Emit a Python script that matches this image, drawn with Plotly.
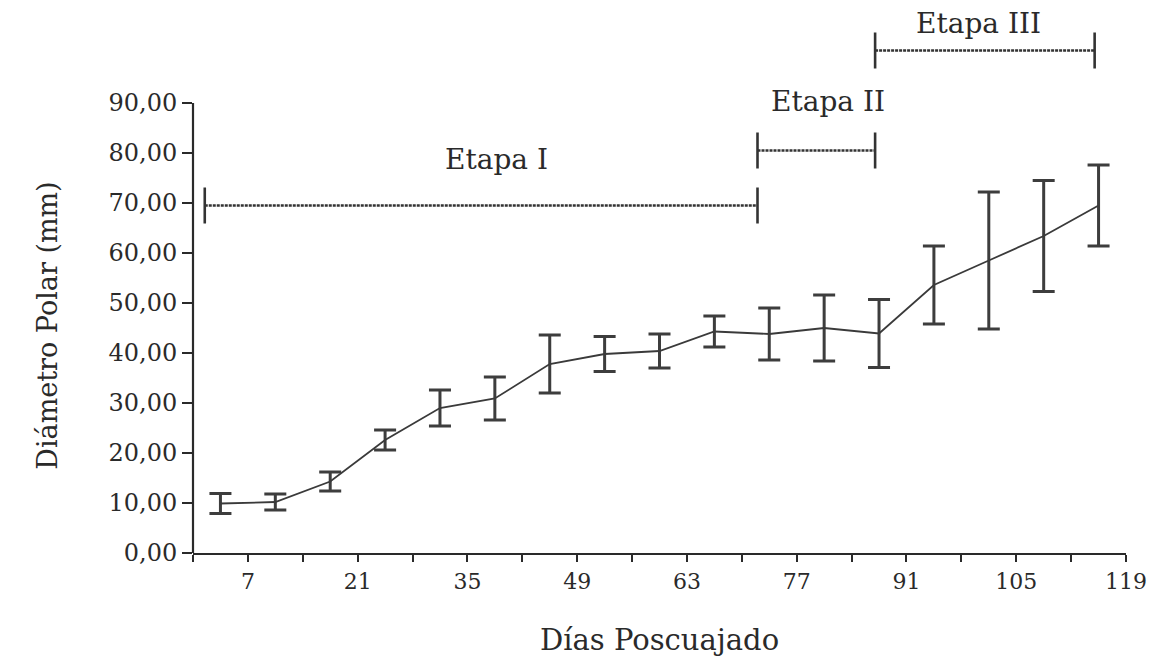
import plotly.graph_objects as go

# Data
days = [3.5, 10.5, 17.5, 24.5, 31.5, 38.5, 45.5, 52.5, 59.5, 66.5, 73.5, 80.5, 87.5, 94.5, 101.5, 108.5, 115.5]
diam_mean = [9.9, 10.2, 14.3, 22.6, 29.0, 30.9, 37.8, 39.8, 40.4, 44.3, 43.8, 45.0, 43.9, 53.6, 58.5, 63.4, 69.5]
diam_err = [2.0, 1.6, 1.9, 2.0, 3.6, 4.3, 5.8, 3.5, 3.4, 3.1, 5.2, 6.6, 6.8, 7.8, 13.7, 11.1, 8.1]

x_tick_vals = [7, 21, 35, 49, 63, 77, 91, 105, 119]
y_tick_vals = [0, 10, 20, 30, 40, 50, 60, 70, 80, 90]

stage_names = ["Etapa I", "Etapa II", "Etapa III"]
stage_start = [1.5, 72, 87]
stage_end = [72, 87, 115]
stage_level = [69.5, 80.5, 100.5]
stage_label_x = [38.7, 81.0, 100.2]
stage_label_y = [78.8, 90.3, 106.0]

FONT = "DejaVu Serif"
INK = "#2a2a2a"
Y_MAX = 106

fig = go.Figure()
fig.add_trace(go.Scatter(
    x=days, y=diam_mean, mode="lines",
    line=dict(color="#3a3a3a", width=1.8),
    error_y=dict(type="data", array=diam_err, visible=True,
                 color="#3d3d3d", thickness=3, width=11),
    showlegend=False, hoverinfo="x+y",
))

shapes = []
# y axis line only up to 90
shapes.append(dict(type="line", xref="paper", yref="y", x0=0, x1=0, y0=0, y1=90,
                   line=dict(color=INK, width=2.2)))
for s, e, lv in zip(stage_start, stage_end, stage_level):
    shapes.append(dict(type="line", xref="x", yref="y", x0=s, x1=e, y0=lv, y1=lv,
                       line=dict(color="#333333", width=2.6, dash="3px,1px")))
    for xc in (s, e):
        shapes.append(dict(type="line", xref="x", yref="y", x0=xc, x1=xc,
                           y0=lv - 3.6, y1=lv + 3.6,
                           line=dict(color="#333333", width=2.6)))

annotations = []
for name, lx, ly in zip(stage_names, stage_label_x, stage_label_y):
    # paper-referenced y so labels above the axis range are still shown
    annotations.append(dict(x=lx, y=ly / Y_MAX, xref="x", yref="paper", text=name,
                            showarrow=False, yanchor="middle",
                            font=dict(family=FONT, size=28, color=INK)))
annotations.append(dict(x=-0.175, y=45.5, xref="paper", yref="y", text="Diámetro Polar (mm)",
                        textangle=-90, showarrow=False,
                        font=dict(family=FONT, size=27, color=INK)))
annotations.append(dict(x=0.5, y=-0.164, xref="paper", yref="paper", text="Días Poscuajado",
                        showarrow=False, yanchor="middle",
                        font=dict(family=FONT, size=29, color=INK)))

fig.update_layout(
    width=1161, height=665,
    margin=dict(l=193, r=35, t=23, b=112),
    paper_bgcolor="white", plot_bgcolor="white",
    separators=",.",
    shapes=shapes, annotations=annotations,
    xaxis=dict(range=[0, 119], tickmode="array", tickvals=x_tick_vals,
               ticks="outside", ticklen=7, tickwidth=2.2, tickcolor=INK,
               showline=True, linecolor=INK, linewidth=2.2, showgrid=False, zeroline=False,
               tickfont=dict(family=FONT, size=22, color=INK),
               minor=dict(ticks="outside", dtick=7, tick0=0, ticklen=7,
                          tickwidth=2.2, tickcolor=INK, showgrid=False)),
    yaxis=dict(range=[0, Y_MAX], tickmode="array", tickvals=y_tick_vals,
               tickformat=".2f", ticks="outside", ticklen=10, tickwidth=2.2, tickcolor=INK,
               showline=False, showgrid=False, zeroline=False,
               tickfont=dict(family=FONT, size=24, color=INK)),
)

# remove the default page margin so the figure sits exactly in the 1161x665 window
fig.write_html("out.html",
               config={"displayModeBar": False},
               post_script="document.body.style.margin='0';document.body.style.overflow='hidden';")
